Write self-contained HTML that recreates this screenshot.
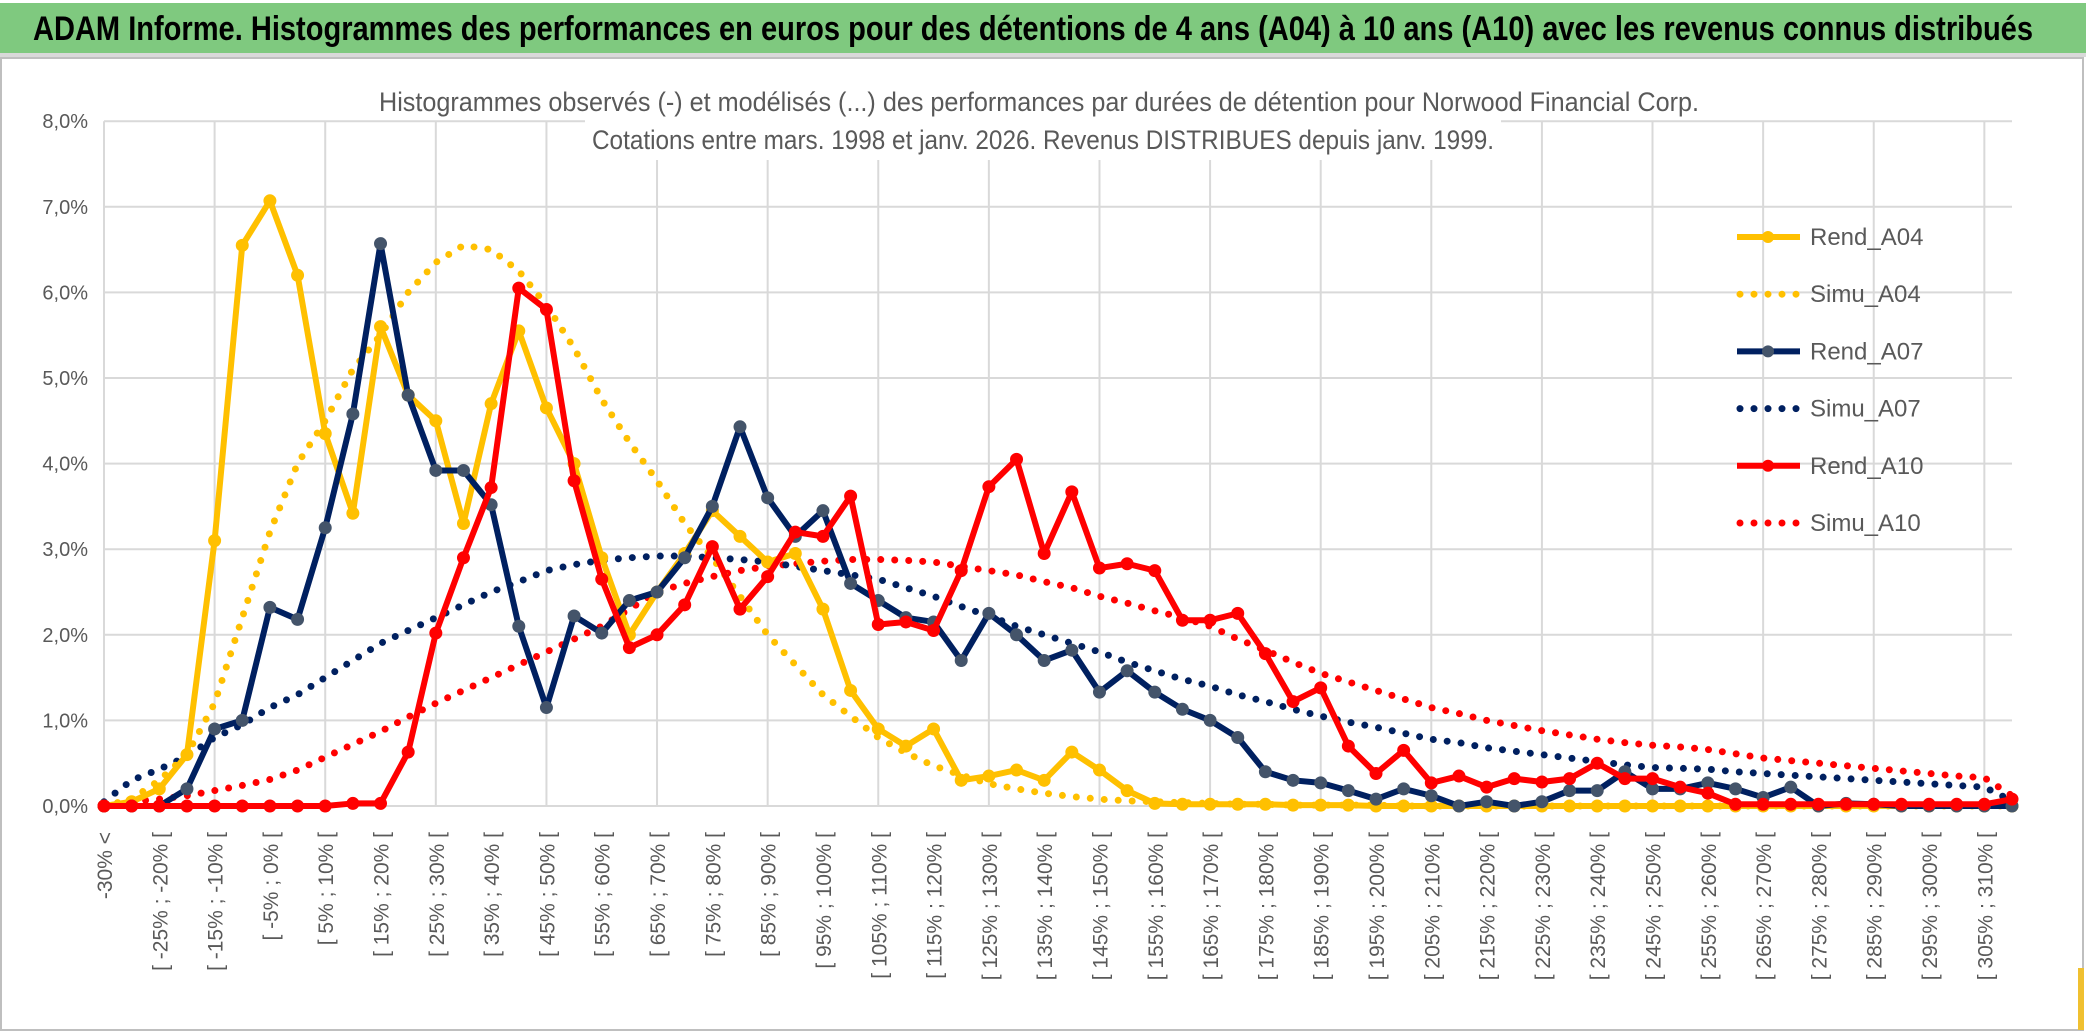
<!DOCTYPE html>
<html><head><meta charset="utf-8"><style>
html,body{margin:0;padding:0;background:#fff;}
svg{display:block;font-family:"Liberation Sans",sans-serif;}
</style></head><body>
<svg id="chart" width="2086" height="1033" viewBox="0 0 2086 1033" xmlns="http://www.w3.org/2000/svg">
<rect x="0" y="0" width="2086" height="1033" fill="#fff"/>
<rect x="0" y="3" width="2086" height="50" fill="#7fc97f"/>
<rect x="0" y="53" width="2086" height="4" fill="#d9d9d9"/>
<rect x="1" y="58" width="2082" height="972" fill="none" stroke="#bfbfbf" stroke-width="2"/>
<rect x="2078" y="968" width="6" height="62" fill="#f0c030"/>
<text x="33" y="40" font-size="34" font-weight="bold" font-family="'Liberation Sans Narrow','Liberation Sans',sans-serif" textLength="2000" lengthAdjust="spacingAndGlyphs" fill="#000">ADAM Informe. Histogrammes des performances en euros pour des détentions de 4 ans (A04) à 10 ans (A10) avec les revenus connus distribués</text>
<g id="grid"></g>
<rect x="372" y="80" width="1335" height="40" fill="#fff"/>
<rect x="585" y="118" width="916" height="42" fill="#fff"/>
<text x="1039" y="111" font-size="27" text-anchor="middle" fill="#595959" textLength="1320" lengthAdjust="spacingAndGlyphs" font-family="'Liberation Sans Narrow','Liberation Sans',sans-serif">Histogrammes observés (-) et modélisés (...) des performances par durées de détention pour Norwood Financial Corp.</text>
<text x="1043" y="149" font-size="27" text-anchor="middle" fill="#595959" textLength="902" lengthAdjust="spacingAndGlyphs" font-family="'Liberation Sans Narrow','Liberation Sans',sans-serif">Cotations entre mars. 1998 et janv. 2026. Revenus DISTRIBUES depuis janv. 1999.</text>
<g id="axes"></g><g id="series"></g><g id="legend"></g>
</svg>
<script>
const yTicks = [0,1,2,3,4,5,6,7,8];
const rendA04 = [0,0.05,0.2,0.6,3.1,6.55,7.07,6.2,4.35,3.42,5.6,4.8,4.5,3.3,4.7,5.55,4.65,4.0,2.9,2.0,2.5,2.95,3.45,3.15,2.85,2.95,2.3,1.35,0.9,0.7,0.9,0.3,0.35,0.42,0.3,0.63,0.42,0.18,0.03,0.02,0.02,0.02,0.02,0.01,0.01,0.01,0,0,0,0,0,0,0,0,0,0,0,0,0,0,0,0,0,0,0,0,0,0,0,0];
const rendA07 = [0,0,0,0.2,0.9,1.0,2.32,2.18,3.25,4.58,6.57,4.8,3.92,3.92,3.52,2.1,1.15,2.22,2.02,2.4,2.5,2.9,3.5,4.43,3.6,3.15,3.45,2.6,2.4,2.2,2.15,1.7,2.25,2.0,1.7,1.82,1.33,1.58,1.33,1.13,1.0,0.8,0.4,0.3,0.27,0.18,0.08,0.2,0.12,0,0.05,0,0.05,0.18,0.18,0.4,0.2,0.2,0.27,0.2,0.1,0.22,0,0.03,0.02,0,0,0,0,0];
const rendA10 = [0,0,0,0,0,0,0,0,0,0.03,0.03,0.63,2.02,2.9,3.72,6.05,5.8,3.8,2.65,1.85,2.0,2.35,3.03,2.3,2.68,3.2,3.15,3.62,2.12,2.15,2.05,2.75,3.73,4.05,2.95,3.67,2.78,2.83,2.75,2.17,2.17,2.25,1.78,1.22,1.38,0.7,0.38,0.65,0.27,0.35,0.22,0.32,0.28,0.32,0.5,0.32,0.32,0.22,0.15,0.02,0.02,0.02,0.02,0.02,0.02,0.02,0.02,0.02,0.02,0.08];
const simuA04 = [0,0.08,0.3,0.6,1.2,2.2,3.2,4.0,4.5,5.1,5.5,6.0,6.35,6.55,6.5,6.25,5.85,5.35,4.75,4.25,3.8,3.3,2.9,2.45,2.0,1.65,1.3,1.05,0.8,0.62,0.47,0.36,0.26,0.2,0.15,0.11,0.08,0.06,0.05,0.04,0.03,0.02,0.02,0.01,0.01,0.01,0.01,0,0,0,0,0,0,0,0,0,0,0,0,0,0,0,0,0,0,0,0,0,0,0];
const simuA07 = [0.05,0.3,0.43,0.58,0.8,0.95,1.15,1.3,1.5,1.7,1.9,2.05,2.2,2.35,2.5,2.62,2.75,2.82,2.87,2.9,2.92,2.92,2.9,2.88,2.85,2.8,2.75,2.7,2.65,2.55,2.45,2.33,2.22,2.1,2.0,1.9,1.8,1.68,1.58,1.48,1.4,1.3,1.22,1.13,1.05,0.98,0.92,0.85,0.78,0.74,0.68,0.64,0.6,0.56,0.52,0.48,0.45,0.44,0.43,0.4,0.38,0.36,0.34,0.32,0.3,0.28,0.26,0.24,0.22,0.06];
const simuA10 = [0,0.05,0.08,0.12,0.18,0.24,0.31,0.42,0.57,0.72,0.87,1.04,1.2,1.35,1.5,1.65,1.8,1.95,2.1,2.3,2.5,2.6,2.68,2.75,2.8,2.83,2.86,2.88,2.88,2.87,2.85,2.8,2.75,2.7,2.62,2.55,2.45,2.37,2.28,2.2,2.1,1.95,1.82,1.68,1.55,1.45,1.35,1.25,1.15,1.08,1.0,0.94,0.88,0.83,0.78,0.74,0.71,0.69,0.66,0.61,0.56,0.53,0.5,0.47,0.44,0.41,0.38,0.35,0.33,0.12];
const categories = ["-30% <"];
for (let k = 1; k < 70; k++) categories.push("[ " + (-35 + 5*k) + "% ; " + (-30 + 5*k) + "% [");

const NS = "http://www.w3.org/2000/svg";
const X0 = 104, X1 = 2012, Y0 = 806, YPER = 85.6;
const xScale = i => X0 + i * (X1 - X0) / (categories.length - 1);
const yScale = v => Y0 - v * YPER;
function mk(tag, attrs, parent) {
  const e = document.createElementNS(NS, tag);
  for (const k in attrs) e.setAttribute(k, attrs[k]);
  parent.appendChild(e);
  return e;
}
const grid = document.getElementById('grid');
const axes = document.getElementById('axes');
const series = document.getElementById('series');
const legend = document.getElementById('legend');

yTicks.forEach(t => {
  const l = mk('line', {x1: X0, x2: X1, y1: yScale(t), y2: yScale(t), stroke: '#d9d9d9', 'stroke-width': 2}, grid);
  
  
  const tx = mk('text', {x: 88, y: yScale(t) + 7, 'font-size': 20, 'text-anchor': 'end', fill: '#595959'}, axes);
  tx.textContent = t.toFixed(1).replace('.', ',') + '%';
  
  
});
for (let i = 0; i < categories.length; i += 4) {
  const l = mk('line', {x1: xScale(i), x2: xScale(i), y1: yScale(8), y2: Y0, stroke: '#d9d9d9', 'stroke-width': 2}, grid);
  
  
}
for (let i = 0; i < categories.length - 1; i += 2) {
  const x = xScale(i) + 8;
  const tx = mk('text', {x: x, y: 832, 'font-size': 21, 'text-anchor': 'end', fill: '#595959', transform: 'rotate(-90 ' + x + ' 832)'}, axes);
  tx.textContent = categories[i];
  
  
}

function pts(arr) { return arr.map((v, i) => xScale(i) + ',' + yScale(v)).join(' '); }
function dotted(arr, color, name) {
  const p = mk('polyline', {points: pts(arr), fill: 'none', stroke: color, 'stroke-width': 7, 'stroke-linecap': 'round', 'stroke-dasharray': '0 14'}, series);
  
  
}
function solid(arr, color, mcolor, name) {
  const g = mk('g', {}, series);
  
  
  mk('polyline', {points: pts(arr), fill: 'none', stroke: color, 'stroke-width': 6, 'stroke-linejoin': 'round'}, g);
  arr.forEach((v, i) => {
    const c = mk('circle', {cx: xScale(i), cy: yScale(v), r: 6, fill: mcolor, stroke: mcolor}, g);
    
    
  });
}
dotted(simuA10, '#ff0000', 'simu-a10-line');
dotted(simuA07, '#002060', 'simu-a07-line');
dotted(simuA04, '#ffc000', 'simu-a04-line');
solid(rendA04, '#ffc000', '#ffc000', 'rend-a04-line');
solid(rendA07, '#002060', '#44546a', 'rend-a07-line');
solid(rendA10, '#ff0000', '#ff0000', 'rend-a10-line');

const legendNames = ['Rend_A04','Simu_A04','Rend_A07','Simu_A07','Rend_A10','Simu_A10'];
const legendColors = ['#ffc000','#ffc000','#002060','#002060','#ff0000','#ff0000'];
legendNames.forEach((n, k) => {
  const y = 237 + k * 57.2;
  const g = mk('g', {}, legend);
  
  
  if (k % 2 === 0) {
    mk('line', {x1: 1737, x2: 1800, y1: y, y2: y, stroke: legendColors[k], 'stroke-width': 6}, g);
    mk('circle', {cx: 1768, cy: y, r: 6, fill: k === 2 ? '#44546a' : legendColors[k]}, g);
  } else {
    mk('line', {x1: 1740, x2: 1798, y1: y, y2: y, stroke: legendColors[k], 'stroke-width': 7, 'stroke-linecap': 'round', 'stroke-dasharray': '0 14'}, g);
  }
  const t = mk('text', {x: 1810, y: y + 8, 'font-size': 24, fill: '#595959'}, g);
  t.textContent = n;
});
</script>
</body></html>
